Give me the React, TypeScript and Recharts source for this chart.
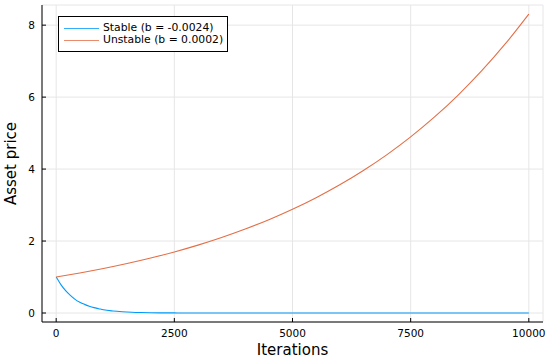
import React from 'react';
import { LineChart, Line, XAxis, YAxis, CartesianGrid } from 'recharts';

// Iterations and asset prices
const stableIter = [0, 100, 200, 300, 400, 500, 600, 700, 800, 900, 1000, 1200, 1400, 1600, 1800, 2000, 2500, 3000, 4000, 6000, 8000, 10000];
const stablePrice = [1, 0.79, 0.62, 0.49, 0.38, 0.3, 0.24, 0.19, 0.15, 0.12, 0.09, 0.056, 0.035, 0.021, 0.013, 0.008, 0.0025, 0.0007, 0, 0, 0, 0];

const unstableIter = [0, 500, 1000, 1500, 2000, 2500, 3000, 3500, 4000, 4500, 5000, 5500, 6000, 6500, 7000, 7500, 8000, 8500, 9000, 9500, 10000];
const unstablePrice = [1, 1.112, 1.236, 1.374, 1.527, 1.698, 1.887, 2.098, 2.333, 2.593, 2.883, 3.205, 3.563, 3.961, 4.403, 4.895, 5.442, 6.05, 6.726, 7.477, 8.31];

const xTicks = [0, 2500, 5000, 7500, 10000];
const yTicks = [0, 2, 4, 6, 8];

const seriesNames = ['Stable (b = -0.0024)', 'Unstable (b = 0.0002)'];
const colors = ['#009AFA', '#E36F47'];

const stableData = stableIter.map((it, i) => ({ it, price: stablePrice[i] }));
const unstableData = unstableIter.map((it, i) => ({ it, price: unstablePrice[i] }));

const FONT = '"DejaVu Sans", sans-serif';

const XTick = (props: any) => {
  const { x, y, payload } = props;
  return (
    <g>
      <line x1={x} x2={x} y1={y} y2={y - 4} stroke="#000" strokeWidth={1} />
      <text x={x} y={y + 15} textAnchor="middle" fontSize={10.5} fontFamily={FONT} fill="#000">
        {payload.value}
      </text>
    </g>
  );
};

const YTick = (props: any) => {
  const { x, y, payload } = props;
  return (
    <g>
      <line x1={x} x2={x + 4} y1={y} y2={y} stroke="#000" strokeWidth={1} />
      <text x={x - 7} y={y + 3.8} textAnchor="end" fontSize={10.5} fontFamily={FONT} fill="#000">
        {payload.value}
      </text>
    </g>
  );
};

const LegendBox = () => (
  <div
    style={{
      position: 'absolute',
      left: 58,
      top: 16,
      border: '1px solid #000',
      background: '#fff',
      width: 168,
      height: 34,
      fontFamily: FONT,
      fontSize: 10.8,
    }}
  >
    {seriesNames.map((name, i) => (
      <div key={name} style={{ display: 'flex', alignItems: 'center', height: 12, marginTop: i === 0 ? 5 : 0 }}>
        <div style={{ width: 35, height: 0, borderTop: `1.5px solid ${colors[i]}`, marginLeft: 5, marginRight: 4, opacity: 0.8 }} />
        <span style={{ whiteSpace: 'nowrap', lineHeight: '12px' }}>{name}</span>
      </div>
    ))}
  </div>
);

export default function App() {
  return (
    <div style={{ position: 'absolute', left: 0, top: 0, width: 550, height: 361, background: '#fff' }}>
      <LineChart width={550} height={361} margin={{ top: 5, right: 7, bottom: 0, left: 0 }}>
        <CartesianGrid stroke="#e6e6e6" strokeWidth={1} />
        <XAxis
          dataKey="it"
          type="number"
          domain={[-300, 10300]}
          ticks={xTicks}
          allowDataOverflow
          height={39}
          tickSize={0}
          tickMargin={0}
          tickLine={false}
          axisLine={{ stroke: '#000', strokeWidth: 1 }}
          tick={<XTick />}
          label={(props: any) => {
            const vb = props.viewBox;
            return (
              <text x={vb.x + vb.width / 2} y={355} textAnchor="middle" fontSize={15} fontFamily={FONT} fill="#000">
                Iterations
              </text>
            );
          }}
        />
        <YAxis
          type="number"
          domain={[-0.25, 8.56]}
          ticks={yTicks}
          allowDataOverflow
          width={42}
          tickSize={0}
          tickMargin={0}
          tickLine={false}
          axisLine={{ stroke: '#000', strokeWidth: 1 }}
          tick={<YTick />}
          label={(props: any) => {
            const vb = props.viewBox;
            const cy = vb.y + vb.height / 2;
            return (
              <text
                x={16}
                y={cy}
                transform={`rotate(-90, 16, ${cy})`}
                textAnchor="middle"
                fontSize={15}
                fontFamily={FONT}
                fill="#000"
              >
                Asset price
              </text>
            );
          }}
        />
        <Line
          data={stableData}
          dataKey="price"
          type="monotone"
          stroke={colors[0]}
          strokeWidth={1.1}
          dot={false}
          isAnimationActive={false}
        />
        <Line
          data={unstableData}
          dataKey="price"
          type="monotone"
          stroke={colors[1]}
          strokeWidth={1.1}
          dot={false}
          isAnimationActive={false}
        />
      </LineChart>
      <LegendBox />
    </div>
  );
}
